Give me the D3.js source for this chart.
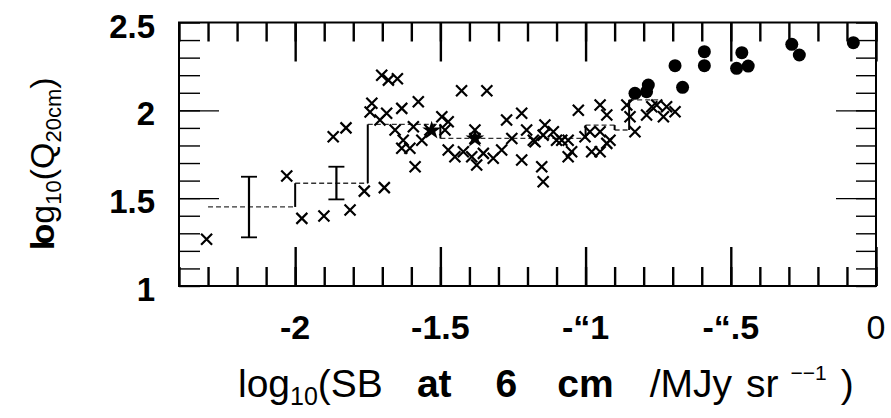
<!DOCTYPE html>
<html>
<head>
<meta charset="utf-8">
<script src="https://cdn.jsdelivr.net/npm/d3@7"></script>
<style>
  body { margin: 0; background: #fff; }
  text { font-family: "Liberation Sans", Arial, sans-serif; fill: #000; }
</style>
</head>
<body>
<div id="chart"></div>
<script>
// crosses: [log10 SB, log10 Q]
const crossPts = [
  [-2.305,1.266],[-2.029,1.626],[-1.977,1.385],[-1.901,1.398],[-1.811,1.433],
  [-1.869,1.85],[-1.825,1.90],[-1.762,1.54],[-1.693,1.56],[-1.702,2.2],
  [-1.679,2.172],[-1.648,2.18],[-1.736,2.04],[-1.742,1.99],[-1.685,1.983],
  [-1.633,2.011],[-1.576,2.049],[-1.708,1.945],[-1.656,1.888],[-1.628,1.83],
  [-1.593,1.907],[-1.564,1.83],[-1.633,1.784],[-1.605,1.784],[-1.587,1.679],
  [-1.536,1.888],[-1.495,1.963],[-1.473,1.935],[-1.484,1.888],[-1.427,2.111],
  [-1.34,2.111],[-1.473,1.774],[-1.45,1.736],[-1.421,1.764],[-1.381,1.888],
  [-1.381,1.84],[-1.375,1.689],[-1.392,1.736],[-1.352,1.755],[-1.318,1.727],
  [-1.289,1.774],[-1.272,1.945],[-1.22,1.983],[-1.254,1.84],[-1.203,1.888],
  [-1.22,1.717],[-1.18,1.83],[-1.174,1.821],[-1.14,1.916],[-1.146,1.859],
  [-1.111,1.878],[-1.1,1.83],[-1.082,1.83],[-1.06,1.83],[-1.048,1.764],
  [-1.06,1.736],[-1.151,1.679],[-1.146,1.594],[-1.025,2.0],[-1.002,1.85],
  [-0.985,1.878],[-0.95,2.03],[-0.927,1.973],[-0.95,1.878],[-0.916,1.83],
  [-0.979,1.764],[-0.95,1.764],[-0.927,1.812],[-0.858,2.03],[-0.83,1.878],
  [-0.847,1.963],[-0.79,1.973],[-0.755,2.03],[-0.732,1.963],[-0.692,1.992],
  [-0.721,2.02],[-0.772,2.02]
];

// filled circles
const dotPts = [
  [-0.83,2.097],[-0.784,2.144],[-0.79,2.106],[-0.692,2.254],[-0.666,2.131],
  [-0.591,2.334],[-0.591,2.254],[-0.48,2.239],[-0.462,2.328],[-0.44,2.252],
  [-0.29,2.376],[-0.264,2.315],[-0.078,2.385]
];

// dense overlaps drawn as blobs
const blobPts = [[-1.53,1.885],[-1.381,1.84]];

// binned means (step line)
const stepEdges = [-2.3, -2.0, -1.75, -1.5, -1.0, -0.9, -0.85, -0.75];
const stepMeans = [1.45, 1.585, 1.92, 1.84, 1.916, 1.888, 2.06];

// error bars
const errX  = [-2.159, -1.858];
const errLo = [1.277, 1.493];
const errHi = [1.622, 1.679];

const xTickVals   = [-2, -1.5, -1, -0.5, 0];
const xTickLabels = ["-2", "-1.5", "-\u201c1", "-\u201c.5", "0"];
const yTickVals   = [2.5, 2, 1.5, 1];
const yTickLabels = ["2.5", "2", "1.5", "1"];

const margin = {top: 22.5, right: 15, bottom: 132, left: 179},
      width = 891 - margin.left - margin.right,
      height = 418 - margin.top - margin.bottom;

const x = d3.scaleLinear().domain([-2.4, 0]).range([0, width]);
const y = d3.scaleLinear().domain([1, 2.5]).range([height, 0]);

const svg = d3.select("#chart").append("svg")
    .attr("width", 891)
    .attr("height", 418)
  .append("g")
    .attr("transform", "translate(" + margin.left + "," + margin.top + ")");

// inward ticks on all four sides
function ticks(axis, tr, vals, len, sw) {
  const g = svg.append("g")
      .attr("transform", tr)
      .call(axis.tickValues(vals).tickSize(len).tickFormat(""));
  g.select(".domain").remove();
  g.selectAll("line").attr("stroke", "#000").attr("stroke-width", sw);
}
const xMinor = x.ticks(24), xMajor = x.ticks(5);
const yMinor = y.ticks(15), yMajor = [1.5, 2];

ticks(d3.axisTop(x), "translate(0," + height + ")", xMinor, 19, 2.4);
ticks(d3.axisTop(x), "translate(0," + height + ")", xMajor, 39, 2.4);
ticks(d3.axisBottom(x), "translate(0,0)", xMinor, 19, 2.4);
ticks(d3.axisBottom(x), "translate(0,0)", xMajor, 39, 2.4);
ticks(d3.axisRight(y), "translate(0,0)", yMinor, 21, 1.4);
ticks(d3.axisRight(y), "translate(0,0)", yMajor, 40, 1.4);
ticks(d3.axisLeft(y), "translate(" + width + ",0)", yMinor, 20, 1.4);
ticks(d3.axisLeft(y), "translate(" + width + ",0)", yMajor, 40, 1.4);

// frame
svg.append("rect")
    .attr("width", width)
    .attr("height", height)
    .attr("fill", "none")
    .attr("stroke", "#000")
    .attr("stroke-width", 2);

// step line: dashed horizontals, solid risers
svg.selectAll(".bin")
    .data(stepMeans)
    .enter().append("line")
    .attr("x1", (d, i) => x(stepEdges[i]))
    .attr("x2", (d, i) => x(stepEdges[i + 1]))
    .attr("y1", d => y(d))
    .attr("y2", d => y(d))
    .attr("stroke", "#333")
    .attr("stroke-width", 1.3)
    .attr("stroke-dasharray", "5,3");

svg.selectAll(".riser")
    .data(stepMeans.slice(1))
    .enter().append("line")
    .attr("x1", (d, i) => x(stepEdges[i + 1]))
    .attr("x2", (d, i) => x(stepEdges[i + 1]))
    .attr("y1", (d, i) => y(stepMeans[i]))
    .attr("y2", d => y(d))
    .attr("stroke", "#000")
    .attr("stroke-width", 2);

// error bars
const eb = svg.selectAll(".err")
    .data(errX)
    .enter().append("g");
eb.append("line")
    .attr("x1", d => x(d)).attr("x2", d => x(d))
    .attr("y1", (d, i) => y(errLo[i])).attr("y2", (d, i) => y(errHi[i]))
    .attr("stroke", "#000").attr("stroke-width", 2.2);
eb.append("line")
    .attr("x1", d => x(d) - 8).attr("x2", d => x(d) + 8)
    .attr("y1", (d, i) => y(errLo[i])).attr("y2", (d, i) => y(errLo[i]))
    .attr("stroke", "#000").attr("stroke-width", 1.8);
eb.append("line")
    .attr("x1", d => x(d) - 8).attr("x2", d => x(d) + 8)
    .attr("y1", (d, i) => y(errHi[i])).attr("y2", (d, i) => y(errHi[i]))
    .attr("stroke", "#000").attr("stroke-width", 1.8);

// crosses
svg.selectAll(".cross")
    .data(crossPts)
    .enter().append("path")
    .attr("transform", d => "translate(" + x(d[0]) + "," + y(d[1]) + ")")
    .attr("d", "M-5.5,-5.5L5.5,5.5M5.5,-5.5L-5.5,5.5")
    .attr("stroke", "#000")
    .attr("stroke-width", 2.2)
    .attr("fill", "none");

svg.selectAll(".blob")
    .data(blobPts)
    .enter().append("path")
    .attr("transform", d => "translate(" + x(d[0]) + "," + y(d[1]) + ")")
    .attr("d", d3.symbol(d3.symbolStar, 110))
    .attr("fill", "#000");

// filled circles
svg.selectAll(".dot")
    .data(dotPts)
    .enter().append("circle")
    .attr("cx", d => x(d[0]))
    .attr("cy", d => y(d[1]))
    .attr("r", 6.5)
    .attr("fill", "#000");

// tick labels
svg.selectAll(".xl")
    .data(xTickVals)
    .enter().append("text")
    .attr("x", d => x(d))
    .attr("y", height + 53)
    .attr("text-anchor", "middle")
    .attr("font-size", 34)
    .attr("font-weight", (d, i) => i === 4 ? "normal" : "bold")
    .text((d, i) => xTickLabels[i]);

svg.selectAll(".yl")
    .data(yTickVals)
    .enter().append("text")
    .attr("x", -24)
    .attr("y", d => y(d) + 15)
    .attr("text-anchor", "end")
    .attr("font-size", 33)
    .attr("font-weight", "bold")
    .text((d, i) => yTickLabels[i]);

// x title
const xt = svg.append("text")
    .attr("x", 238 - margin.left)
    .attr("y", height + 111)
    .attr("font-size", 39);
xt.append("tspan").text("log");
xt.append("tspan").attr("font-size", 25).attr("dy", 8).text("10");
xt.append("tspan").attr("dy", -8).text("(SB");
xt.append("tspan").attr("font-weight", "bold").attr("dx", 34).text("at");
xt.append("tspan").attr("font-weight", "bold").attr("dx", 44).text("6");
xt.append("tspan").attr("font-weight", "bold").attr("dx", 40).text("cm");
xt.append("tspan").attr("dx", 36).text("/MJy");
xt.append("tspan").attr("dx", 14).text("sr");
xt.append("tspan").attr("font-size", 21).attr("dy", -17).attr("dx", 12).text("\u2212\u22121");
xt.append("tspan").attr("dy", 17).attr("dx", 14).text(")");

// y title
const yt = svg.append("text")
    .attr("transform", "translate(" + (54 - margin.left) + "," + (250 - margin.top) + ") rotate(-90)")
    .attr("font-size", 34);
yt.append("tspan").attr("font-weight", "bold").text("l");
yt.append("tspan").attr("font-weight", "bold").attr("dx", -4).text("o");
yt.append("tspan").text("g");
yt.append("tspan").attr("font-size", 22).attr("dy", 7).text("10");
yt.append("tspan").attr("dy", -7).text("(Q");
yt.append("tspan").attr("font-size", 22).attr("dy", 7).text("20cm");
yt.append("tspan").attr("dy", -7).text(")");
</script>
</body>
</html>
